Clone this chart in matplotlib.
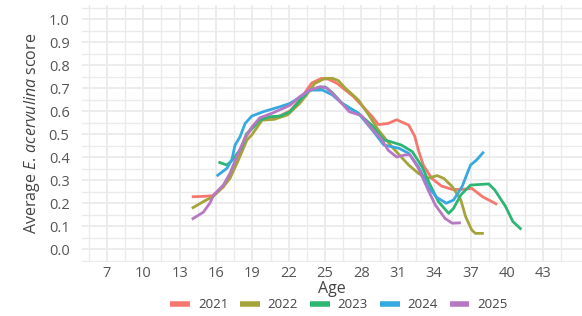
import numpy as np
import matplotlib
matplotlib.use("Agg")
import matplotlib.pyplot as plt
from matplotlib.ticker import MultipleLocator, FixedLocator

plt.rcParams['font.family'] = ['Open Sans', 'DejaVu Sans']
plt.rcParams['mathtext.fontset'] = 'custom'
plt.rcParams['mathtext.rm'] = 'Open Sans'
plt.rcParams['mathtext.it'] = 'Open Sans:italic'

# data
age_2021 = [14, 15, 15.75, 16.6, 17.2, 17.8, 18.5, 19, 19.7, 20.9, 22.1, 23, 23.9, 24.7,
            25.3, 26.0, 26.7, 27.3, 28.0, 28.9, 29.4, 30.2, 30.9, 31.9, 32.4, 32.7, 33.1,
            33.8, 34.6, 35.5, 36.3, 37.1, 38.0, 39.2]
val_2021 = [0.227, 0.229, 0.232, 0.27, 0.32, 0.40, 0.49, 0.53, 0.57, 0.57, 0.60, 0.655, 0.722, 0.742,
            0.738, 0.72, 0.69, 0.665, 0.626, 0.575, 0.541, 0.546, 0.562, 0.539, 0.49, 0.43, 0.365,
            0.307, 0.274, 0.259, 0.259, 0.264, 0.227, 0.194]

age_2022 = [14, 14.95, 15.8, 16.6, 17.15, 17.85, 18.55, 18.95, 19.4, 19.8, 20.8, 21.9, 22.9,
            23.5, 24.15, 25.0, 25.6, 26.1, 26.65, 27.75, 28.6, 29.4, 30.5, 31.2, 31.9, 32.7,
            33.4, 34.25, 34.8, 35.5, 36.2, 36.6, 37.1, 37.4, 38.1]
val_2022 = [0.177, 0.206, 0.23, 0.271, 0.307, 0.387, 0.474, 0.496, 0.53, 0.56, 0.564, 0.583, 0.633,
            0.672, 0.72, 0.742, 0.742, 0.732, 0.70, 0.648, 0.583, 0.517, 0.445, 0.405, 0.365, 0.329,
            0.307, 0.319, 0.307, 0.271, 0.213, 0.14, 0.083, 0.068, 0.068]

age_2023 = [16.2, 16.9, 17.4, 18.1, 18.5, 19.1, 19.6, 20.4, 21.3, 22.1, 22.9, 23.6, 24.3, 25.0,
            25.6, 26.4, 27.75, 28.9, 29.85, 30.2, 31.3, 32.2, 33.0, 33.6, 34.35, 35.2, 35.6,
            36.2, 37.0, 38.5, 39.0, 39.9, 40.5, 41.2]
val_2023 = [0.378, 0.365, 0.39, 0.44, 0.50, 0.53, 0.56, 0.575, 0.578, 0.597, 0.645, 0.685, 0.70, 0.705,
            0.68, 0.633, 0.59, 0.536, 0.474, 0.47, 0.452, 0.423, 0.358, 0.286, 0.206, 0.155, 0.177,
            0.235, 0.278, 0.283, 0.257, 0.184, 0.119, 0.085]

age_2024 = [16.05, 16.9, 17.3, 17.57, 17.98, 18.4, 18.95, 19.9, 21.3, 22.1, 23.0, 23.7, 24.8,
            25.6, 26.4, 27.75, 28.9, 29.85, 31.1, 31.9, 32.7, 33.5, 34.2, 35.0, 35.6, 36.3,
            37.0, 37.5, 38.1]
val_2024 = [0.317, 0.351, 0.387, 0.452, 0.488, 0.546, 0.578, 0.597, 0.619, 0.633, 0.662, 0.691, 0.691,
            0.67, 0.633, 0.59, 0.517, 0.452, 0.438, 0.416, 0.358, 0.271, 0.225, 0.199, 0.213, 0.271,
            0.365, 0.387, 0.423]

age_2025 = [14.0, 14.95, 15.5, 15.8, 16.6, 17.15, 17.7, 18.4, 18.95, 19.6, 20.7, 22.1, 22.9,
            23.7, 24.6, 25.15, 26.0, 27.0, 28.0, 28.7, 29.7, 30.2, 30.9, 31.6, 32.0, 32.7,
            33.5, 34.1, 34.9, 35.5, 36.2]
val_2025 = [0.129, 0.16, 0.2, 0.235, 0.278, 0.329, 0.40, 0.485, 0.53, 0.57, 0.592, 0.625, 0.662,
            0.69, 0.706, 0.70, 0.655, 0.597, 0.58, 0.532, 0.474, 0.43, 0.40, 0.409, 0.41, 0.351,
            0.257, 0.191, 0.133, 0.112, 0.114]

years = ["2021", "2022", "2023", "2024", "2025"]
ages = [age_2021, age_2022, age_2023, age_2024, age_2025]
vals = [val_2021, val_2022, val_2023, val_2024, val_2025]
colors = ["#F5776E", "#A4A43A", "#2DB673", "#36A9E1", "#B877C4"]

fig = plt.figure(figsize=(5.82, 3.16), dpi=100)
ax = fig.add_axes([82/582, 1-262/316, 500/582, 257/316])

for a, v, c, y in zip(ages, vals, colors, years):
    ax.plot(a, v, color=c, lw=2.0, label=y, solid_capstyle='butt', solid_joinstyle='round')

ax.set_xlim(4.94, 46.2)
ax.set_ylim(-0.0565, 1.061)
ax.xaxis.set_major_locator(FixedLocator(np.arange(7, 44, 3)))
ax.xaxis.set_minor_locator(FixedLocator(np.arange(5.5, 46, 3)))
ax.yaxis.set_major_locator(MultipleLocator(0.1))
ax.yaxis.set_minor_locator(FixedLocator(np.arange(-0.05, 1.06, 0.1)))
ax.set_yticklabels([f"{t:.1f}" for t in ax.get_yticks()])

ax.grid(which='major', color="#EBEBEB", lw=1.3)
ax.grid(which='minor', color="#EBEBEB", lw=1.0)
ax.set_axisbelow(True)
for s in ax.spines.values():
    s.set_visible(False)
ax.tick_params(which='both', length=0)
ax.tick_params(axis='x', labelsize=10.5, labelcolor="#555555", pad=3)
ax.tick_params(axis='y', labelsize=10.5, labelcolor="#555555", pad=9)

ax.set_xlabel("Age", fontsize=11.5, color="#444444", labelpad=0)
ax.set_ylabel(r"Average $E.\,acervulina$ score", fontsize=11.5, color="#444444", labelpad=5)

fig.legend(loc='center', bbox_to_anchor=(339/582, 1-305/316), ncol=5, frameon=False,
           fontsize=9.5, handlelength=1.5, handletextpad=0.6, columnspacing=0.9)
for h in fig.legends[0].get_lines():
    h.set_linewidth(4)
for t in fig.legends[0].get_texts():
    t.set_color("#444444")

fig.savefig("out.png", dpi=100)
